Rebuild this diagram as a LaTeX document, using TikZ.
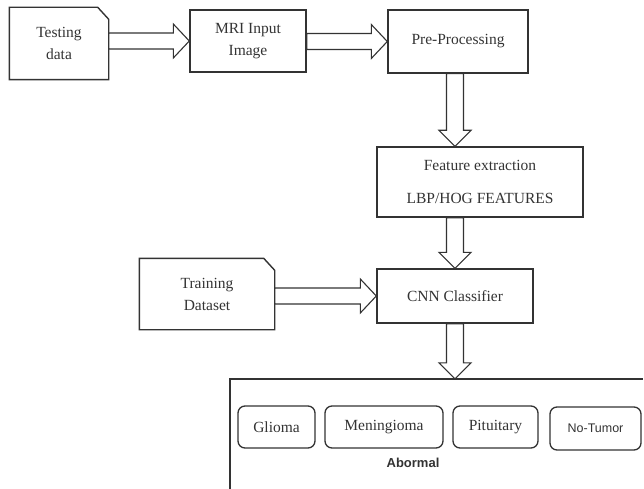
\documentclass[tikz,border=0pt]{standalone}
\usepackage{fontspec}
\setmainfont{Liberation Serif}
\newfontfamily\arialfont{Liberation Sans}
\usetikzlibrary{calc}
\definecolor{ink}{HTML}{333333}
\tikzset{
  box/.style={draw=ink, line width=1.4pt, rectangle, inner sep=0pt, text=ink,
    font=\fontsize{15.5}{22}\selectfont, align=center},
  snipbox/.style={box, draw=none},
  snipline/.style={draw=ink, line width=1.4pt, line join=miter},
  classbox/.style={draw=ink, line width=1.3pt, rounded corners=7pt, inner sep=0pt,
    text=ink, font=\fontsize{15.5}{18}\selectfont},
  barrow/.style={draw=ink, line width=1.1pt, fill=white, line join=miter},
}
% outline of a box with a snipped top-right corner
\newcommand\snipoutline[1]{%
  \draw[snipline] (#1.south west) -- (#1.north west) -- ($(#1.north east)+(-11,0)$) --
    ($(#1.north east)+(0,12)$) -- (#1.south east) -- cycle;}
% horizontal block arrow from #1 (east) to #2 (west), at #2's height
\newcommand\harrow[2]{%
  \draw[barrow] let \p1=(#1.east), \p2=(#2.west) in
    ({\x1},{\y2+8pt}) -- ({\x2-16pt},{\y2+8pt}) -- ({\x2-16pt},{\y2+17pt}) --
    ({\x2},{\y2}) -- ({\x2-16pt},{\y2-17pt}) -- ({\x2-16pt},{\y2-8pt}) --
    ({\x1},{\y2-8pt}) -- cycle;}
% vertical block arrow from #1 (south) to #2 (north), at the x of #3
\newcommand\varrow[3]{%
  \draw[barrow] let \p1=(#1.south), \p2=(#2.north), \p3=(#3.center) in
    ({\x3-8.5pt},{\y1}) -- ({\x3-8.5pt},{\y2+16pt}) -- ({\x3-16pt},{\y2+16pt}) --
    ({\x3},{\y2}) -- ({\x3+16pt},{\y2+16pt}) -- ({\x3+8.5pt},{\y2+16pt}) --
    ({\x3+8.5pt},{\y1}) -- cycle;}
\begin{document}
\begin{tikzpicture}[x=1pt,y=-1pt]
\useasboundingbox (0,0) rectangle (644,489);

\node[snipbox, minimum width=98pt, minimum height=71pt] (td) at (59,43.5) {Testing\\data};
\snipoutline{td}
\node[box, minimum width=116pt, minimum height=62pt] (mri) at (248,41) {MRI Input\\Image};
\node[box, minimum width=140pt, minimum height=63pt] (pre) at (458,41.5) {Pre-Processing};
\node[box, minimum width=206pt, minimum height=70pt, font=\fontsize{15.5}{33}\selectfont] (fe) at (480,182) {Feature extraction\\LBP/HOG FEATURES};
\node[snipbox, minimum width=134pt, minimum height=70pt] (tr) at (207,294) {Training\\Dataset};
\snipoutline{tr}
\node[box, minimum width=156pt, minimum height=54pt] (cnn) at (455,296) {CNN Classifier};

\node[rectangle, minimum width=414pt, minimum height=110pt, inner sep=0pt] (out) at (437,434) {};
\draw[snipline] (out.south west) -- (out.north west) -- ($(out.north east)+(-1,0)$);

\node[classbox, minimum width=77pt, minimum height=42pt] (gl) at (276.5,427) {Glioma};
\node[classbox, minimum width=118pt, minimum height=42pt] (me) at (384,427) {Meningioma};
\node[classbox, minimum width=85pt, minimum height=42pt] (pi) at (495.5,427) {Pituitary};
\node[classbox, minimum width=91pt, minimum height=43pt, font=\arialfont\fontsize{12.5}{15}\selectfont] (nt) at (595.5,428.5) {No-Tumor};
\node[text=ink, font=\arialfont\bfseries\fontsize{13}{15}\selectfont, inner sep=0pt] (ab) at (413,463) {Abormal};

\harrow{td}{mri}
\harrow{mri}{pre}
\harrow{tr}{cnn}
\varrow{pre}{fe}{cnn}
\varrow{fe}{cnn}{cnn}
\varrow{cnn}{out}{cnn}
\end{tikzpicture}
\end{document}
